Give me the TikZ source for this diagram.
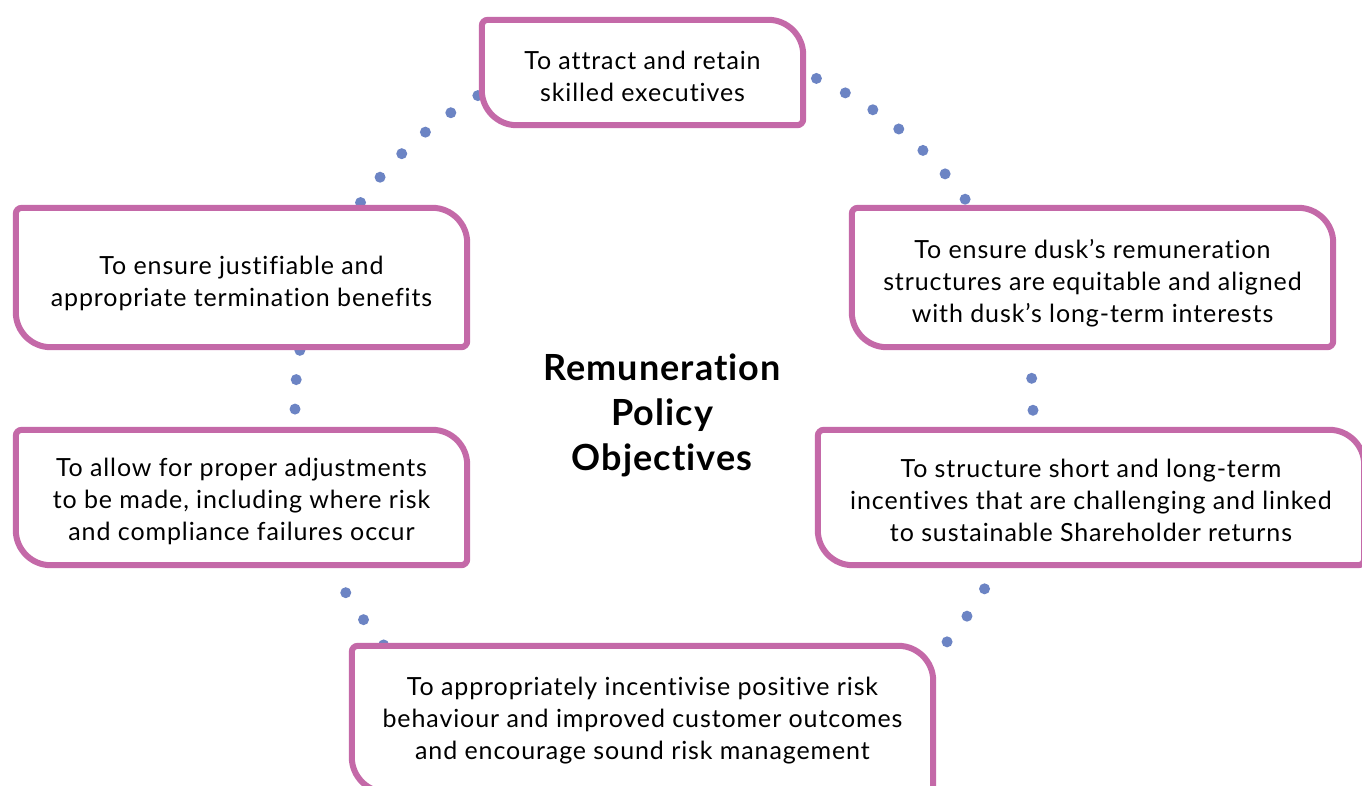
\documentclass[tikz,border=0pt]{standalone}
\usepackage{fontspec}
\setmainfont{Lato}[Ligatures={NoCommon,NoRequired,NoContextual}]
\newfontfamily\bodyfont{Lato}[Ligatures={NoCommon,NoRequired,NoContextual},LetterSpace=3.6]
\newfontfamily\headfont{Lato}[Ligatures={NoCommon,NoRequired,NoContextual},LetterSpace=3]
\usetikzlibrary{backgrounds,calc}
\definecolor{boxpink}{HTML}{C469A8}
\definecolor{dotblue}{HTML}{6C84C4}
\tikzset{
  objbox/.style={inner sep=0pt, draw=none},
  objtext/.style={align=center, inner sep=0pt, text=black,
    font=\bodyfont\fontsize{25}{32}\selectfont},
  boxline/.style={draw=boxpink, line width=6pt, fill=white},
  dotring/.style={draw=dotblue, line width=11pt, line cap=round},
  titletext/.style={align=center, inner sep=0pt,
    font=\headfont\fontsize{36}{45}\bfseries\selectfont}
}
% draw the outline of box #1 (a rectangle node) with small/large corners
\newcommand{\objframe}[1]{%
  \path[boxline] ([yshift=-6pt]#1.north west) arc[start angle=180,end angle=90,radius=6pt]
    -- ([xshift=-35pt]#1.north east) arc[start angle=90,end angle=0,radius=35pt]
    -- ([yshift=6pt]#1.south east) arc[start angle=0,end angle=-90,radius=6pt]
    -- ([xshift=35pt]#1.south west) arc[start angle=270,end angle=180,radius=35pt]
    -- cycle;}
% dotted arc of the ring: start angle, end angle, dot gap
\newcommand{\dotarc}[3]{%
  \draw[dotring, dash pattern=on 0pt off #3pt]
    ($(ring)+(#1:369pt and 363pt)$)
    arc[start angle=#1, end angle=#2, x radius=369pt, y radius=363pt];}
\begin{document}
\begin{tikzpicture}[x=1pt,y=1pt]
\useasboundingbox (0,0) rectangle (1362,-785);
\clip (0,0) rectangle (1362,-785);
\coordinate (ring) at (664,-409);
\node[titletext] (title) at (662,-415) {Remuneration\\Policy\\Objectives};
% frames
\node[objbox, minimum width=321pt, minimum height=105pt] (b1) at (642.5,-72.5) {};
\node[objbox, minimum width=481pt, minimum height=139pt] (b2) at (1092.5,-277.5) {};
\node[objbox, minimum width=546pt, minimum height=135pt] (b3) at (1091,-497.5) {};
\node[objbox, minimum width=581pt, minimum height=146pt] (b4) at (642.5,-719) {};
\node[objbox, minimum width=451pt, minimum height=135pt] (b5) at (241.5,-497.5) {};
\node[objbox, minimum width=451pt, minimum height=139pt] (b6) at (241.5,-277.5) {};
% texts
\node[objtext] (t1) at ([yshift=-4pt]b1.center)
  {To attract and retain\\skilled executives};
\node[objtext] (t2) at ([yshift=-6pt]b2.center)
  {To ensure dusk’s remuneration\\structures are equitable and aligned\\with dusk’s long-term interests};
\node[objtext] (t3) at ([yshift=-3pt]b3.center)
  {To structure short and long-term\\incentives that are challenging and linked\\to sustainable Shareholder returns};
\node[objtext] (t4) at ([yshift=-2pt]b4.center)
  {To appropriately incentivise positive risk\\behaviour and improved customer outcomes\\and encourage sound risk management};
\node[objtext] (t5) at ([yshift=-4pt]b5.center)
  {To allow for proper adjustments\\to be made, including where risk\\and compliance failures occur};
\node[objtext] (t6) at ([yshift=-6pt]b6.center)
  {To ensure justifiable and\\appropriate termination benefits};
\begin{scope}[on background layer]
  \fill[white] (0,0) rectangle (1362,-785);
  % dotted ring segments between consecutive boxes
  \dotarc{65.6}{34.3}{32.3}   % b1 -> b2
  \dotarc{-0.2}{6}{32}        % b3 -> b2
  \dotarc{320.1}{331.3}{32.5} % b4 -> b3
  \dotarc{210.4}{221.5}{32.3} % b5 -> b4
  \dotarc{170.7}{181}{29.5}   % b6 -> b5
  \dotarc{120.3}{146.4}{32}   % b1 -> b6
  \objframe{b1}
  \objframe{b2}
  \objframe{b3}
  \objframe{b4}
  \objframe{b5}
  \objframe{b6}
\end{scope}
\end{tikzpicture}
\end{document}
